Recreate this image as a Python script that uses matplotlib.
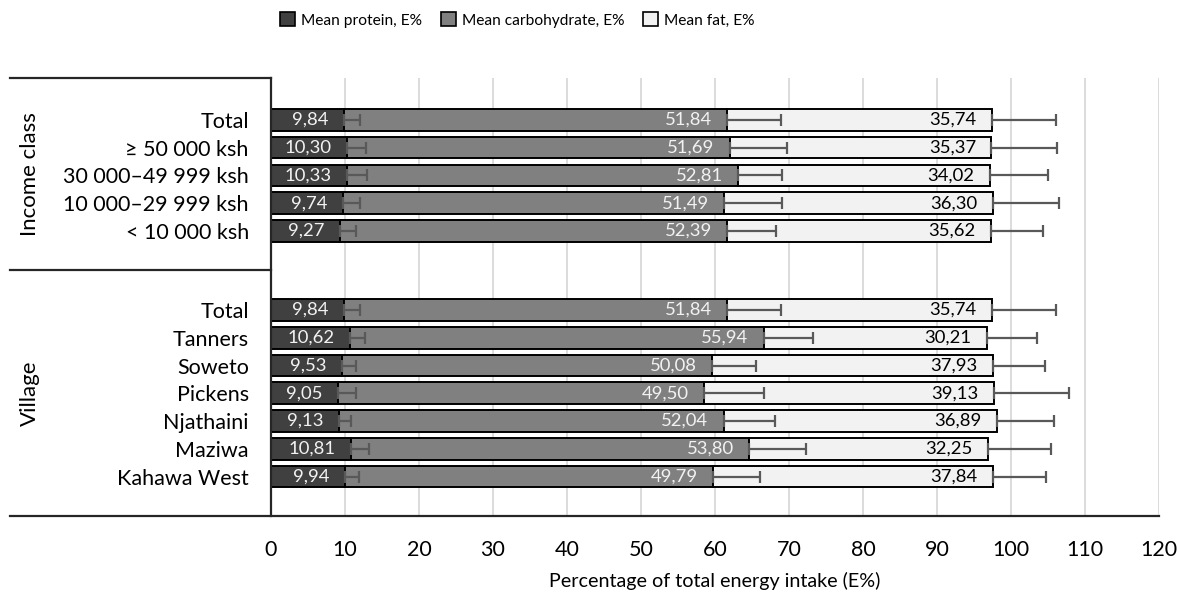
import numpy as np
import matplotlib.pyplot as plt
from matplotlib.lines import Line2D
from matplotlib.patches import Patch

# Rows from top to bottom
categories = ["Total", "≥ 50 000 ksh", "30 000–49 999 ksh", "10 000–29 999 ksh", "< 10 000 ksh",
              "Total", "Tanners", "Soweto", "Pickens", "Njathaini", "Maziwa", "Kahawa West"]
group_names = ["Income class", "Village"]
group_sizes = [5, 7]

protein = [9.84, 10.30, 10.33, 9.74, 9.27, 9.84, 10.62, 9.53, 9.05, 9.13, 10.81, 9.94]
carb = [51.84, 51.69, 52.81, 51.49, 52.39, 51.84, 55.94, 50.08, 49.50, 52.04, 53.80, 49.79]
fat = [35.74, 35.37, 34.02, 36.30, 35.62, 35.74, 30.21, 37.93, 39.13, 36.89, 32.25, 37.84]

protein_sd = [2.2, 2.5, 2.7, 2.3, 2.2, 2.2, 2.1, 2.0, 2.4, 1.7, 2.5, 2.0]
carb_sd = [7.3, 7.7, 5.9, 7.8, 6.6, 7.3, 6.7, 5.9, 8.1, 6.9, 7.7, 6.3]
fat_sd = [8.6, 8.9, 7.8, 9.0, 7.0, 8.6, 6.8, 7.0, 10.1, 7.8, 8.5, 7.2]

series_names = ["Mean protein, E%", "Mean carbohydrate, E%", "Mean fat, E%"]
colors = ["#404040", "#808080", "#f2f2f2"]
label_colors = ["#f2f2f2", "#f2f2f2", "black"]

plt.rcParams['font.family'] = ['Lato', 'DejaVu Sans']

W, H = 1180, 600
fig = plt.figure(figsize=(11.8, 6.0), dpi=100)
ax = fig.add_axes([271 / W, 1 - 516 / H, (1159 - 271) / W, (516 - 78) / H])

# y positions: gap between the two groups
ypos = np.concatenate([np.arange(group_sizes[0]),
                       6.85 + np.arange(group_sizes[1])])

protein = np.array(protein)
carb = np.array(carb)
fat = np.array(fat)
lefts = [np.zeros(len(protein)), protein, protein + carb]
values = [protein, carb, fat]
sds = [protein_sd, carb_sd, fat_sd]

for vals, left, sd, col, lcol in zip(values, lefts, sds, colors, label_colors):
    ax.barh(ypos, vals, left=left, height=0.78, color=col, edgecolor='black',
            linewidth=1.4, zorder=2)
    ax.errorbar(left + vals, ypos, xerr=[np.zeros(len(sd)), sd], fmt='none',
                ecolor='#595959', elinewidth=1.6, capsize=4, capthick=1.6, zorder=3)
    for y, l, v in zip(ypos, left, vals):
        ax.annotate(f"{v:.2f}".replace(".", ","), xy=(l + v, y), xytext=(-11, 0),
                    textcoords='offset points', ha='right', va='center',
                    fontsize=13.3, color=lcol, zorder=4)

ax.set_xlim(0, 120)
ax.set_ylim(14.27, -1.51)
ax.set_xticks(np.arange(0, 121, 10))
ax.set_yticks(ypos)
ax.set_yticklabels(categories, fontsize=15.5)
ax.tick_params(axis='y', length=0, pad=16)
ax.tick_params(axis='x', length=0, pad=17, labelsize=15.5)
ax.xaxis.grid(True, color='#d9d9d9', linewidth=1.3, zorder=0)
ax.set_axisbelow(True)
for s in ['top', 'right', 'bottom']:
    ax.spines[s].set_visible(False)
ax.spines['left'].set_color('#262626')
ax.spines['left'].set_linewidth(1.6)
ax.set_xlabel("Percentage of total energy intake (E%)", fontsize=14.2, labelpad=9)

# Frame lines for group labels
line_kw = dict(color='#262626', linewidth=1.6, transform=fig.transFigure)
fig.add_artist(Line2D([10 / W, 271 / W], [1 - 78 / H, 1 - 78 / H], **line_kw))
fig.add_artist(Line2D([10 / W, 271 / W], [1 - 270 / H, 1 - 270 / H], **line_kw))
fig.add_artist(Line2D([10 / W, 1159 / W], [1 - 516 / H, 1 - 516 / H], **line_kw))

fig.text(30 / W, 1 - 174 / H, group_names[0], rotation=90, ha='center', va='center', fontsize=16)
fig.text(30 / W, 1 - 393 / H, group_names[1], rotation=90, ha='center', va='center', fontsize=16)

handles = [Patch(facecolor=c, edgecolor='black', linewidth=1.2) for c in colors]
fig.legend(handles, series_names, loc='center', bbox_to_anchor=(517 / W, 1 - 20 / H),
           ncol=3, frameon=False, fontsize=11.2, handlelength=1.0, handleheight=1.0,
           handletextpad=0.35, columnspacing=1.2)

fig.savefig("out.png", dpi=100)
